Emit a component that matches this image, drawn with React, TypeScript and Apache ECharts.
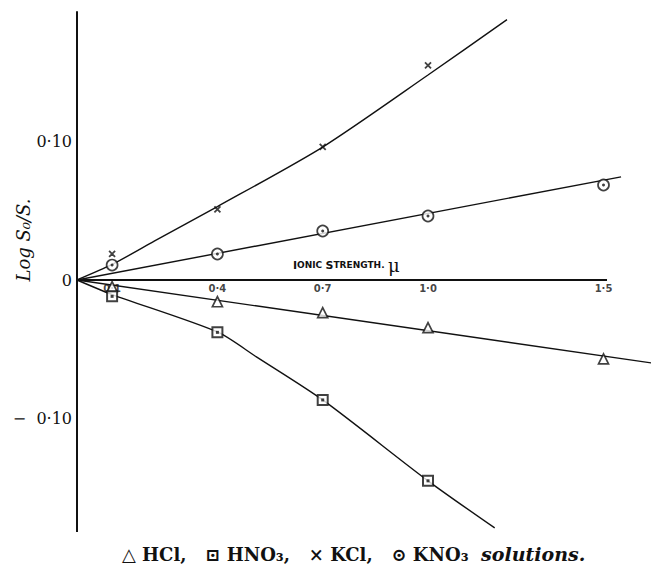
import React, { useEffect, useRef } from "react";
import * as echarts from "echarts";

// Ionic strength values at which measurements were taken
const mu = [0.1, 0.4, 0.7, 1.0, 1.5];
const muShort = [0.1, 0.4, 0.7, 1.0];

// log S0/S values
const hclValues = [-0.0048, -0.0157, -0.0236, -0.0344, -0.057];
const hno3Values = [-0.0118, -0.0378, -0.0866, -0.145];
const kclValues = [0.0188, 0.051, 0.0962, 0.155];
const kno3Values = [0.0108, 0.0188, 0.0354, 0.0462, 0.0686];

// hand-drawn fitted curves
const kclCurveMu = [0, 0.1, 0.22, 0.4, 0.7, 1.0, 1.225];
const kclCurveV = [0, 0.0112, 0.028, 0.053, 0.096, 0.148, 0.188];
const kno3CurveMu = [0, 1.55];
const kno3CurveV = [0, 0.0745];
const hclCurveMu = [0, 1.64];
const hclCurveV = [0, -0.06];
const hno3CurveMu = [0, 0.1, 0.4, 0.51, 0.7, 1.0, 1.19];
const hno3CurveV = [0, -0.0105, -0.0375, -0.0553, -0.0866, -0.145, -0.179];

// axes
const xAxisExtent = [0, 1.51];
const yAxisExtent = [-0.182, 0.194];
const xTickValues = [0.1, 0.4, 0.7, 1.0, 1.5];
const xTickLabels = ["0·1", "0·4", "0·7", "1·0", "1·5"];
const yTickValues = [0.1, 0, -0.1];
const yTickLabels = ["0·10", "0", "−  0·10"];

const zip = (a: number[], b: number[]) => a.map((v, i) => [v, b[i]]);

const INK = "#111";
const SERIF = "DejaVu Serif";

export default function App() {
  const ref = useRef<HTMLDivElement>(null);
  useEffect(() => {
    if (!ref.current) return;
    const chart = echarts.init(ref.current, null, { renderer: "svg" });
    const curve = (mus: number[], vs: number[], smooth: number | boolean) => ({
      type: "line",
      data: zip(mus, vs),
      symbol: "none",
      smooth,
      silent: true,
      clip: false,
      lineStyle: { color: INK, width: 1.4 },
      z: 2,
    });
    const marker = (
      data: number[][],
      symbol: string,
      size: number,
      filled: boolean,
      bw = 1.7
    ) => ({
      type: "scatter",
      data,
      symbol,
      symbolSize: size,
      silent: true,
      clip: false,
      itemStyle: filled
        ? { color: INK, borderWidth: 0 }
        : { color: "#fff", borderColor: INK, borderWidth: bw },
      z: 4,
    });
    chart.setOption({
      animation: false,
      backgroundColor: "#fff",
      grid: { left: 77, right: 0, top: 3, bottom: 14 },
      xAxis: {
        type: "value",
        min: 0,
        max: 1.6353,
        show: false,
      },
      yAxis: {
        type: "value",
        min: -0.2,
        max: 0.2,
        interval: 0.1,
        axisLine: { show: false },
        axisTick: { show: false },
        splitLine: { show: false },
        axisLabel: {
          margin: 5,
          color: INK,
          fontFamily: SERIF,
          fontSize: 16,
          formatter: (v: number) => {
            const i = yTickValues.findIndex((t) => Math.abs(t - v) < 1e-9);
            return i >= 0 ? yTickLabels[i] : "";
          },
        },
      },
      graphic: [
        {
          type: "text",
          x: 293,
          y: 274,
          style: {
            text: "{b|I}{s|ONIC} {b|S}{s|TRENGTH}{s|.} {m|μ}",
            textVerticalAlign: "bottom",
            fill: INK,
            rich: {
              b: { fontSize: 11, fontWeight: "bold", fontFamily: "DejaVu Sans", fill: INK },
              s: { fontSize: 9, fontWeight: "bold", fontFamily: "DejaVu Sans", fill: INK },
              m: { fontSize: 18, fontFamily: SERIF, fill: INK },
            },
          },
        },
        {
          type: "text",
          x: 23,
          y: 240,
          rotation: Math.PI / 2,
          style: {
            text: "Log S₀/S.",
            fontFamily: SERIF,
            fontStyle: "italic",
            fontSize: 18,
            fill: INK,
            textAlign: "center",
            textVerticalAlign: "middle",
          },
        },
        {
          type: "text",
          x: 122,
          y: 554,
          style: {
            text: "{n|△ HCl,   ⊡ HNO₃,   × KCl,   ⊙ KNO₃}  {i|solutions.}",
            textAlign: "left",
            textVerticalAlign: "middle",
            fontFamily: SERIF,
            fontWeight: "bold",
            fontSize: 18,
            fill: INK,
            rich: {
              n: { fontSize: 18, fontWeight: "bold", fontFamily: SERIF, fill: INK },
              i: { fontSize: 19, fontWeight: "bold", fontStyle: "italic", fontFamily: SERIF, fill: INK },
            },
          },
        },
      ],
      series: [
        // axes drawn as data lines
        {
          type: "line",
          data: [[xAxisExtent[0], 0], [xAxisExtent[1], 0]],
          symbol: "none",
          silent: true,
          lineStyle: { color: INK, width: 2 },
          z: 3,
        },
        {
          type: "line",
          data: [[0, yAxisExtent[0]], [0, yAxisExtent[1]]],
          symbol: "none",
          silent: true,
          lineStyle: { color: INK, width: 2 },
          z: 3,
        },
        // x tick labels
        {
          type: "scatter",
          data: xTickValues.map((v) => [v, 0]),
          symbolSize: 0,
          silent: true,
          label: {
            show: true,
            position: "bottom",
            distance: 3,
            fontFamily: "DejaVu Sans",
            fontWeight: "bold",
            fontSize: 10,
            color: INK,
            formatter: (p: any) => xTickLabels[p.dataIndex],
          },
        },
        curve(kclCurveMu, kclCurveV, 0.25),
        curve(kno3CurveMu, kno3CurveV, false),
        curve(hclCurveMu, hclCurveV, false),
        curve(hno3CurveMu, hno3CurveV, 0.25),
        marker(zip(mu, hclValues), "triangle", 10, false),
        marker(zip(muShort, hno3Values), "rect", 10, false, 2),
        marker(zip(muShort, hno3Values), "rect", 3, true),
        marker(zip(mu, kno3Values), "circle", 11, false),
        marker(zip(mu, kno3Values), "circle", 3, true),
        {
          type: "scatter",
          data: zip(muShort, kclValues),
          symbol: "path://M0,0L10,10M10,0L0,10",
          symbolSize: 6,
          silent: true,
          clip: false,
          itemStyle: { color: "none", borderColor: INK, borderWidth: 1.8 },
          z: 4,
        },
      ],
    });
    return () => chart.dispose();
  }, []);
  return (
    <div
      ref={ref}
      style={{ position: "fixed", left: 0, top: 0, width: 651, height: 571, background: "#fff" }}
    />
  );
}
